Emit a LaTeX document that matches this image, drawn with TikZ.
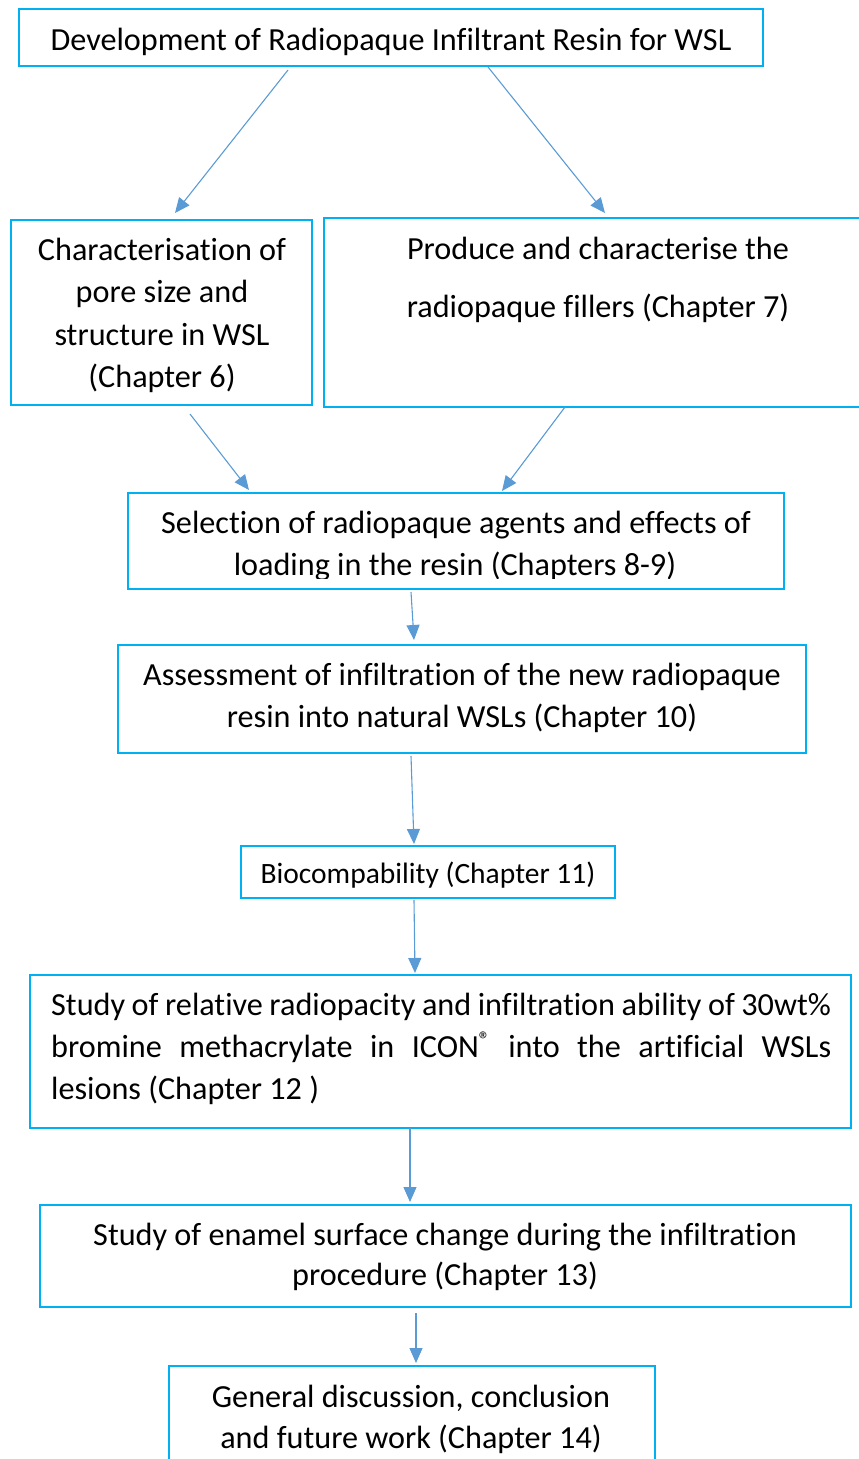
\documentclass[tikz,border=0pt]{standalone}
\usepackage{fontspec}
\setmainfont{Carlito}[Ligatures={NoCommon}]
\usetikzlibrary{arrows.meta}
\definecolor{boxblue}{HTML}{00B0F0}
\definecolor{arrowblue}{HTML}{5B9BD5}
\begin{document}
\begin{tikzpicture}[x=1pt,y=-1pt,
  box/.style={draw=boxblue,line width=2.2pt,inner sep=0pt,fill=none},
  txt/.style={font=\fontsize{32.2}{42}\selectfont,inner sep=0pt,anchor=base},
  small/.style={font=\fontsize{29.5}{36}\selectfont,inner sep=0pt,anchor=base},
  arr/.style={draw=arrowblue,line width=1.1pt,-{Triangle[length=15pt,width=13pt]}}]
\useasboundingbox (0,0) rectangle (859,1459);
% boxes
\node[box,minimum width=744pt,minimum height=57pt] (b1) at (391,37.5) {};
\node[box,minimum width=301pt,minimum height=185pt] (b2) at (161.5,312.5) {};
\node[box,minimum width=548pt,minimum height=189pt] (b3) at (598,312.5) {};
\node[box,minimum width=656pt,minimum height=96pt] (b4) at (456,541) {};
\node[box,minimum width=688pt,minimum height=108pt] (b5) at (462,699) {};
\node[box,minimum width=374pt,minimum height=52pt] (b6) at (428,872) {};
\node[box,minimum width=821pt,minimum height=153pt] (b7) at (440.5,1051.5) {};
\node[box,minimum width=811pt,minimum height=102pt] (b8) at (445.5,1256) {};
\node[box,minimum width=486pt,minimum height=110pt] (b9) at (412,1421) {};
% texts
\node[txt] (t1) at (391,50) {Development of Radiopaque Infiltrant Resin for WSL};
\node[txt] (t2a) at (162,260) {Characterisation of};
\node[txt] (t2b) at (162,302) {pore size and};
\node[txt] (t2c) at (162,345) {structure in WSL};
\node[txt] (t2d) at (162,387) {(Chapter 6)};
\node[txt] (t3a) at (598,259) {Produce and characterise the};
\node[txt] (t3b) at (598,317) {radiopaque fillers (Chapter 7)};
\node[txt] (t4a) at (456,533) {Selection of radiopaque agents and effects of};
\begin{scope}
  \clip (128,494) rectangle (784,578);
  \node[txt] (t4b) at (455,575) {loading in the resin (Chapters 8-9)};
\end{scope}
\node[txt] (t5a) at (462,685) {Assessment of infiltration of the new radiopaque};
\node[txt] (t5b) at (462,727) {resin into natural WSLs (Chapter 10)};
\node[small] (t6) at (428,883) {Biocompability (Chapter 11)};
\node[txt,anchor=base west] (t7a) at (51,1015) {\makebox[780pt][s]{Study of relative radiopacity and infiltration ability of 30wt\%}};
\node[txt,anchor=base west] (t7b) at (51,1057) {\makebox[780pt][s]{bromine methacrylate in ICON\textsuperscript{®} into the artificial WSLs}};
\node[txt,anchor=base west] (t7c) at (51,1099) {lesions (Chapter 12 )};
\node[txt] (t8a) at (445,1245) {Study of enamel surface change during the infiltration};
\node[txt] (t8b) at (445,1285) {procedure (Chapter 13)};
\node[txt] (t9a) at (411,1407) {General discussion, conclusion};
\node[txt] (t9b) at (411,1448) {and future work (Chapter 14)};
% arrow end points
\coordinate (a1s) at (288,70);  \coordinate (a1e) at (175,213);
\coordinate (a2s) at (488,67);  \coordinate (a2e) at (605,213);
\coordinate (a3s) at (190,414); \coordinate (a3e) at (249,490);
\coordinate (a4s) at (565,407); \coordinate (a4e) at (502,491);
\coordinate (a5s) at (411,592); \coordinate (a5e) at (414,640);
\coordinate (a6s) at (411,756); \coordinate (a6e) at (414,844);
\coordinate (a7s) at (414,900); \coordinate (a7e) at (415,973);
\coordinate (a8s) at (410,1128); \coordinate (a8e) at (410,1202);
\coordinate (a9s) at (416,1313); \coordinate (a9e) at (416,1363);
\draw[arr] (a1s) -- (a1e);
\draw[arr] (a2s) -- (a2e);
\draw[arr] (a3s) -- (a3e);
\draw[arr] (a4s) -- (a4e);
\draw[arr] (a5s) -- (a5e);
\draw[arr] (a6s) -- (a6e);
\draw[arr] (a7s) -- (a7e);
\draw[arr] (a8s) -- (a8e);
\draw[arr] (a9s) -- (a9e);
\end{tikzpicture}
\end{document}
